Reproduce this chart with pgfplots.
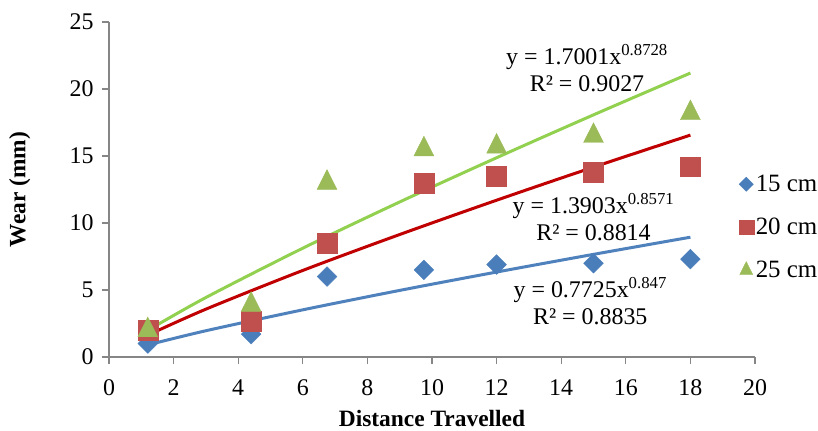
\documentclass[border=0pt]{standalone}
\usepackage{fontspec}
\setmainfont{Liberation Serif}
\usepackage{pgfplots}
\pgfplotsset{compat=1.18}

\definecolor{mblue}{HTML}{4A7EBB}
\definecolor{mred}{HTML}{C0504D}
\definecolor{mgreen}{HTML}{9BBB59}
\definecolor{tblue}{HTML}{4F81BD}
\definecolor{tred}{HTML}{C00000}
\definecolor{tgreen}{HTML}{92D050}
\definecolor{axgray}{HTML}{868686}

\newcommand\cf{\fontsize{24}{27}\selectfont}
\newcommand\lf{\fontsize{25}{28}\selectfont}
\newcommand\lbf{\fontsize{23.5}{27}\selectfont\bfseries}

\begin{document}
\begin{tikzpicture}
\begin{axis}[
    scale only axis,
    width=646bp, height=335bp,
    xmin=0, xmax=20, ymin=0, ymax=25,
    xtick={0,2,...,20}, ytick={0,5,...,25},
    axis x line*=bottom, axis y line*=left,
    axis line style={draw=axgray, line width=1.2bp, -},
    tick align=outside,
    major tick length=7bp,
    tick style={draw=axgray, line width=1.2bp},
    /pgf/number format/assume math mode=true,
    tick label style={font=\cf},
    yticklabel style={xshift=-5bp},
    xticklabel style={yshift=-12bp},
    xlabel={Distance Travelled},
    ylabel={Wear (mm)},
    xlabel style={font=\lbf, at={(axis description cs:0.5,-0.184)}, anchor=center},
    ylabel style={font=\lbf, at={(axis description cs:-0.138,0.5)}, anchor=center},
    legend style={at={(axis description cs:0.970,0.555)}, anchor=north west,
        draw=none, fill=none, font=\lf, row sep=21bp},
    legend cell align=left,
    legend image code/.code={\draw[mark repeat=2,mark phase=2,#1]
        plot coordinates {(0bp,0bp)(12bp,0bp)(26bp,0bp)};},
    clip=false,
]
% 15 cm
\addplot[only marks, mark=square*, mark size=7, mark options={rotate=45, draw=mblue, fill=mblue},
    legend image post style={mark size=5}]
    coordinates {(1.2,1.0) (4.4,1.7) (6.75,6.0) (9.75,6.5) (12,6.9) (15,7.0) (18,7.3)};
\addlegendentry{15 cm}
% 20 cm
\addplot[only marks, mark=square*, mark size=10, mark options={draw=mred, fill=mred},
    legend image post style={mark size=7.5}]
    coordinates {(1.2,2.0) (4.4,2.7) (6.75,8.5) (9.75,13.0) (12,13.5) (15,13.8) (18,14.2)};
\addlegendentry{20 cm}
% 25 cm
\addplot[only marks, mark=triangle*, mark size=11.5, mark options={draw=mgreen, fill=mgreen, yscale=1.15},
    legend image post style={mark size=7.5}]
    coordinates {(1.2,2.0) (4.4,3.9) (6.75,13.0) (9.75,15.5) (12,15.7) (15,16.5) (18,18.2)};
\addlegendentry{25 cm}

% power trendlines
\addplot[forget plot, tblue, line width=3bp, smooth, no marks]
    coordinates {(1.2,0.90) (3,1.96) (6,3.52) (9,4.97) (12,6.34) (15,7.66) (18,8.94)};
\addplot[forget plot, tred, line width=3bp, smooth, no marks]
    coordinates {(1.2,1.63) (3,3.57) (6,6.46) (9,9.14) (12,11.70) (15,14.17) (18,16.56)};
\addplot[forget plot, tgreen, line width=3bp, smooth, no marks]
    coordinates {(1.2,1.99) (3,4.44) (6,8.12) (9,11.57) (12,14.87) (15,18.07) (18,21.19)};

\node[font=\cf, align=center] at (axis cs:14.8,21.55)
    {y = 1.7001x\textsuperscript{0.8728}\\R² = 0.9027};
\node[font=\cf, align=center] at (axis cs:15.0,10.45)
    {y = 1.3903x\textsuperscript{0.8571}\\R² = 0.8814};
\node[font=\cf, align=center] at (axis cs:14.9,4.15)
    {y = 0.7725x\textsuperscript{0.847}\\R² = 0.8835};
\end{axis}
\pgfresetboundingbox
\useasboundingbox (-109bp,-74bp) rectangle (709bp,357bp);
\end{tikzpicture}
\end{document}
